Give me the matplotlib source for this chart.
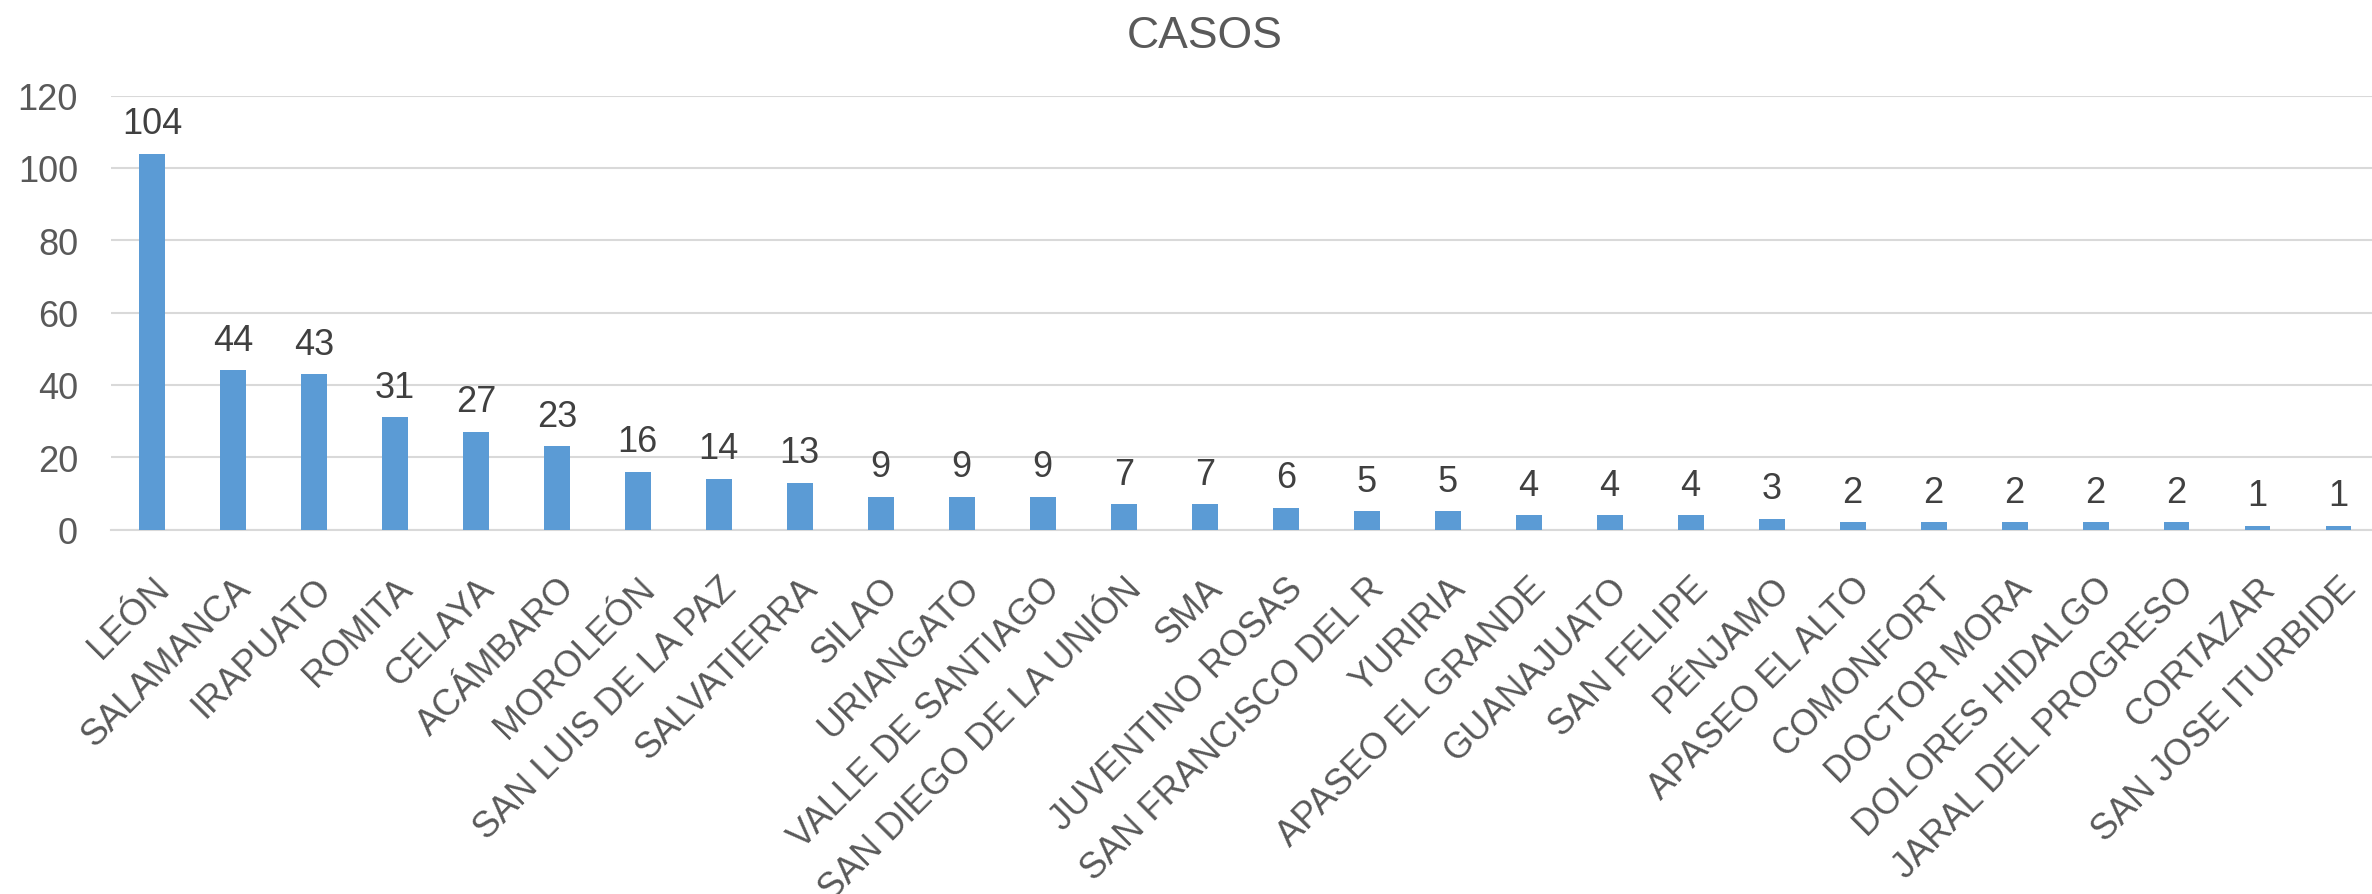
import matplotlib
matplotlib.use("Agg")
import matplotlib.pyplot as plt

plt.rcParams['font.family'] = ['Liberation Sans', 'DejaVu Sans']

municipios = ["LEÓN", "SALAMANCA", "IRAPUATO", "ROMITA", "CELAYA", "ACÁMBARO",
              "MOROLEÓN", "SAN LUIS DE LA PAZ", "SALVATIERRA", "SILAO", "URIANGATO",
              "VALLE DE SANTIAGO", "SAN DIEGO DE LA UNIÓN", "SMA", "JUVENTINO ROSAS",
              "SAN FRANCISCO DEL R", "YURIRIA", "APASEO EL GRANDE", "GUANAJUATO",
              "SAN FELIPE", "PÉNJAMO", "APASEO EL ALTO", "COMONFORT", "DOCTOR MORA",
              "DOLORES HIDALGO", "JARAL DEL PROGRESO", "CORTAZAR", "SAN JOSE ITURBIDE"]
casos = [104, 44, 43, 31, 27, 23, 16, 14, 13, 9, 9, 9, 7, 7, 6, 5, 5, 4, 4, 4, 3,
         2, 2, 2, 2, 2, 1, 1]
y_ticks = [0, 20, 40, 60, 80, 100, 120]

W, H = 2372, 895
fig = plt.figure(figsize=(W / 100, H / 100), dpi=100)
x0, x1 = 111.4, 2379
y0, y1 = 530.5, 96.7
ax = fig.add_axes([x0 / W, (H - y0) / H, (x1 - x0) / W, (y0 - y1) / H])

pos = list(range(len(municipios)))
bars = ax.bar(pos, casos, width=0.32, color="#5B9BD5", zorder=3)

for b, v in zip(bars, casos):
    ax.annotate(str(v), (b.get_x() + b.get_width() / 2, v), xytext=(0, 9),
                textcoords="offset points", ha="center", va="bottom",
                fontsize=26, color="#404040")

ax.set_xlim(-0.5, len(municipios) - 0.5)
ax.set_ylim(0, 120)
ax.set_yticks(y_ticks)
ax.yaxis.grid(True, color="#D9D9D9", linewidth=1.5, zorder=0)
ax.set_axisbelow(True)
for s in ["top", "right", "left"]:
    ax.spines[s].set_visible(False)
ax.spines["bottom"].set_color("#D9D9D9")
ax.spines["bottom"].set_linewidth(1.5)
ax.tick_params(axis="y", length=0, pad=24, labelsize=26, labelcolor="#595959")
ax.tick_params(axis="x", length=0, pad=29.5)
ax.set_xticks(pos)
ax.set_xticklabels(municipios, rotation=45, ha="right", va="top",
                   rotation_mode="anchor", fontsize=26, color="#595959")

fig.text(1204.5 / W, (H - 48) / H, "CASOS", ha="center", va="baseline",
         fontsize=32, color="#595959")

fig.savefig("out.png", dpi=100)
